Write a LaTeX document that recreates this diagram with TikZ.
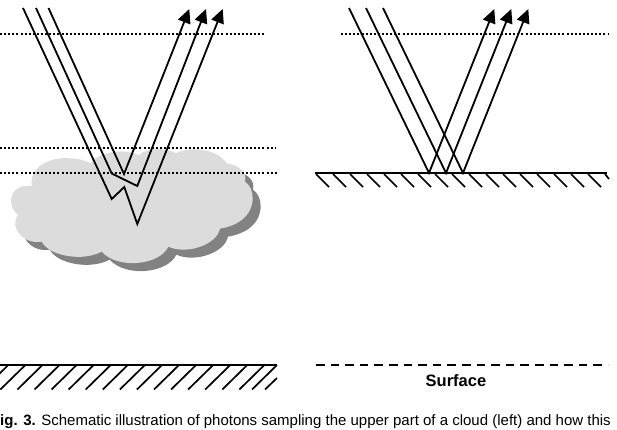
\documentclass[tikz,border=0pt]{standalone}
\usepackage{fontspec}
\setmainfont{Liberation Sans}
\usetikzlibrary{arrows.meta}
\definecolor{cloudlight}{HTML}{DCDCDC}
\definecolor{cloudshade}{HTML}{828282}
\tikzset{
  ray/.style={line width=1.8pt,line join=miter},
  rayout/.style={ray,-{Triangle[length=14pt,width=13pt]}},
  level/.style={line width=2pt,dash pattern=on 2pt off 2.1pt},
  ground/.style={line width=2pt},
  tick/.style={line width=1.7pt},
  cloudbody/.pic={
    \fill[fill=#1,x=0.3333pt,y=-0.3333pt]
      (95,558) .. controls (88,500) and (150,470) .. (210,475)
      .. controls (235,476) and (258,482) .. (272,490)
      .. controls (285,462) and (370,440) .. (415,466)
      .. controls (440,442) and (500,442) .. (528,460)
      .. controls (570,438) and (650,445) .. (680,490)
      .. controls (715,495) and (742,515) .. (735,545)
      .. controls (765,565) and (770,625) .. (725,660)
      .. controls (710,672) and (685,682) .. (660,686)
      .. controls (650,735) and (560,765) .. (505,740)
      .. controls (480,795) and (355,810) .. (305,755)
      .. controls (250,785) and (150,770) .. (125,725)
      .. controls (70,735) and (25,680) .. (55,645)
      .. controls (15,615) and (30,550) .. (95,558) -- cycle;
  }
}
\begin{document}
\begin{tikzpicture}[x=1pt,y=-1pt]
\useasboundingbox (0,0) rectangle (617,430);
\clip (0,0) rectangle (617,430);

% cloud with its drop shadow
\pic at (8,8) {cloudbody=cloudshade};
\pic at (0,0) {cloudbody=cloudlight};

% reference levels
\draw[level] (0,34) -- (264,34);
\draw[level] (0,148) -- (276,148);
\draw[level] (0,173.5) -- (277,173.5);
\draw[level] (341,34) -- (608,34);

% photon paths inside the cloud
\draw[rayout] (48.5,8) -- (124,174) -- (189.3,9);
\draw[rayout] (36,8) -- (111.7,173.5) -- (137.3,186) -- (206,9);
\draw[rayout] (23,8) -- (111.7,199) -- (124.3,187) -- (137.3,224) -- (222.7,9);

% photon paths reflected at the surface
\foreach \dx in {0,17,34}{
  \draw[rayout] (349+\dx,8) -- (429+\dx,173) -- (494.3+\dx,9);
}

% cloud-free ground, left
\draw[ground] (0,364.5) -- (277,364.5);
\foreach \k in {0,...,15}{
  \draw[tick] (8.3+17.07*\k,365) -- (-16.7+17.07*\k,389.5);
}
\draw[tick] (277,365) -- (252,389.5);
\draw[tick] (277,378) -- (265,389.5);

% reflecting surface, right
\draw[ground] (315,173.5) -- (607,173.5);
\foreach \k in {0,...,16}{
  \draw[tick] (316+17*\k,174) -- (329+17*\k,187);
}
\draw[tick] (605,174) -- (609,179);

% effective surface
\draw[ground,dash pattern=on 8.5pt off 6.1pt] (316,364.5) -- (608,364.5);

\node[font=\bfseries,anchor=base,inner sep=0pt] (surf) at (456,386) {\fontsize{16.5}{18}\selectfont Surface};
\node[anchor=base west,inner sep=0pt] (cap) at (0,425.5) {\fontsize{15}{18}\selectfont\textbf{ig. 3.} Schematic illustration of photons sampling the upper part of a cloud (left) and how this};
\end{tikzpicture}
\end{document}
